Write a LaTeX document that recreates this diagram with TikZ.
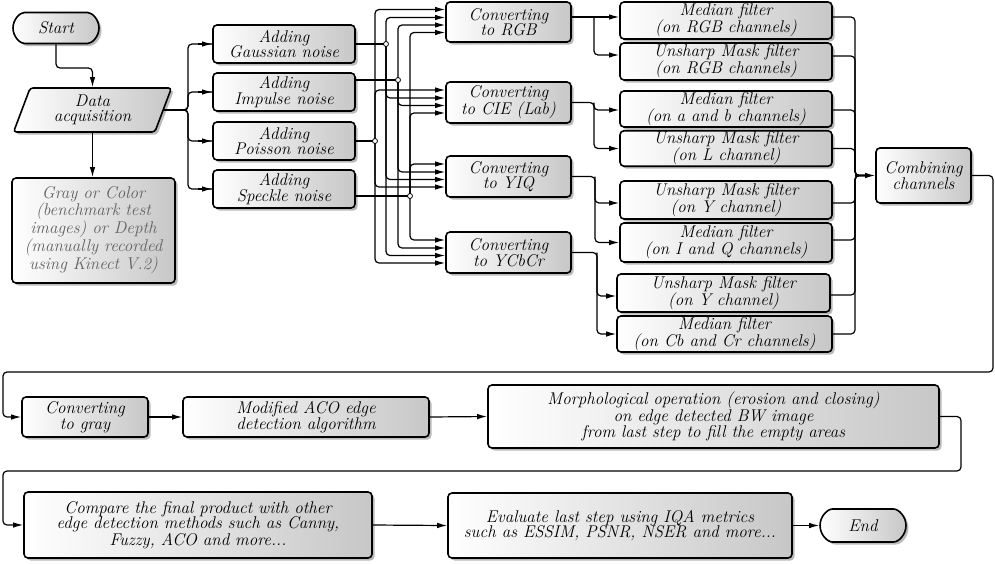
\documentclass[tikz,border=0pt]{standalone}
\usepackage{fontspec}
\usetikzlibrary{shapes.geometric,shapes.misc,shadows,arrows.meta}
\begin{document}
\begin{tikzpicture}[x=1pt,y=-1pt,
  txt/.style={font=\itshape\fontsize{17}{15.5}\selectfont\addfontfeatures{FakeBold=0.6}, align=center},
  box/.style={txt, draw, line width=1.6pt, rounded corners=4pt, left color=white, right color=black!22,
    drop shadow={shadow xshift=2.5pt, shadow yshift=-2.5pt, fill=black!55, opacity=0.5}, inner sep=1pt},
  term/.style={box, rounded rectangle},
  arr/.style={-{Latex[length=10pt,width=5.5pt]}, line width=1.2pt, rounded corners=4pt},
  ln/.style={line width=1.2pt, rounded corners=4pt},
  junc/.style={circle, draw, fill=white, line width=0.8pt, inner sep=0pt, minimum size=5pt}
]
\useasboundingbox (0,0) rectangle (995,563);

% left column
\node[term, minimum width=88pt, minimum height=31pt] (start) at (56,28) {Start};
\node[box, trapezium, trapezium left angle=72, trapezium right angle=108, trapezium stretches=true,
      minimum width=159pt, minimum height=44pt, rounded corners=3pt] (data) at (92.5,110) {Data\\acquisition};
\node[box, minimum width=163pt, minimum height=105pt, text=black!62] (src) at (93.5,230.5)
  {Gray or Color\\(benchmark test\\images) or Depth\\(manually recorded\\using Kinect V.2)};

% noise boxes
\node[box, minimum width=142pt, minimum height=38pt] (gauss) at (284,44) {Adding\\Gaussian noise};
\node[box, minimum width=142pt, minimum height=38pt] (imp) at (284,92) {Adding\\Impulse noise};
\node[box, minimum width=142pt, minimum height=38pt] (poi) at (284,141) {Adding\\Poisson noise};
\node[box, minimum width=142pt, minimum height=38pt] (spe) at (284,189) {Adding\\Speckle noise};

% converting boxes
\node[box, minimum width=125pt, minimum height=40pt] (rgb) at (508.5,22) {Converting\\to RGB};
\node[box, minimum width=125pt, minimum height=41pt] (cie) at (508.5,102.5) {Converting\\to CIE (Lab)};
\node[box, minimum width=125pt, minimum height=41pt] (yiq) at (508.5,176.5) {Converting\\to YIQ};
\node[box, minimum width=125pt, minimum height=41pt] (ycc) at (508.5,252.5) {Converting\\to YCbCr};

% filter boxes
\node[box, minimum width=212pt, minimum height=37pt] (mrgb) at (726,20.5) {Median filter\\(on RGB channels)};
\node[box, minimum width=212pt, minimum height=37pt] (urgb) at (726,61.5) {Unsharp Mask filter\\(on RGB channels)};
\node[box, minimum width=212pt, minimum height=36pt] (mab) at (726,109) {Median filter\\(on a and b channels)};
\node[box, minimum width=212pt, minimum height=35pt] (ul) at (726,148.5) {Unsharp Mask filter\\(on L channel)};
\node[box, minimum width=212pt, minimum height=38pt] (uy) at (726,200) {Unsharp Mask filter\\(on Y channel)};
\node[box, minimum width=212pt, minimum height=39pt] (miq) at (726,242.5) {Median filter\\(on I and Q channels)};
\node[box, minimum width=213pt, minimum height=38pt] (uy2) at (723.5,293) {Unsharp Mask filter\\(on Y channel)};
\node[box, minimum width=215pt, minimum height=36pt] (mcc) at (724.5,334) {Median filter\\(on Cb and Cr channels)};

\node[box, minimum width=95pt, minimum height=55pt] (comb) at (923.5,175.5) {Combining\\channels};

% bottom rows
\node[box, minimum width=126pt, minimum height=40pt] (gray) at (85,417) {Converting\\to gray};
\node[box, minimum width=246pt, minimum height=40pt] (aco) at (306,417) {Modified ACO edge\\detection algorithm};
\node[box, minimum width=451pt, minimum height=63pt] (morph) at (713.5,416.5)
  {Morphological operation (erosion and closing)\\on edge detected BW image\\from last step to fill the empty areas};
\node[box, minimum width=348pt, minimum height=66pt] (comp) at (198,525)
  {Compare the final product with other\\edge detection methods such as Canny,\\Fuzzy, ACO and more...};
\node[box, minimum width=344pt, minimum height=65pt] (eval) at (620,525.5)
  {Evaluate last step using IQA metrics\\such as ESSIM, PSNR, NSER and more...};
\node[term, minimum width=88pt, minimum height=33pt] (end) at (863,525.5) {End};

% start -> data -> source
\coordinate (s1) at (56,68);
\draw[arr] (start.south) -- (s1) -| (data.center |- data.north);
\draw[arr] (data.center |- data.south) -- (data.center |- src.north);

% data -> noise
\coordinate (db) at (188,110);
\draw[ln] (data.east) -- (db) |- (gauss.west);
\draw[ln] (data.east) -- (db) |- (imp.west);
\draw[ln] (data.east) -- (db) |- (poi.west);
\draw[ln] (data.east) -- (db) |- (spe.west);
\foreach \n in {gauss,imp,poi,spe} \draw[arr] ([xshift=-14pt]\n.west) -- (\n.west);

% junctions of the buses
\coordinate (pd) at (375,141);
\coordinate (gd) at (386,44);
\coordinate (id) at (398,80);
\coordinate (sd) at (410,196);
\draw[ln] (gauss.east) -- (gd);
\draw[ln] (imp.east |- id) -- (id);
\draw[ln] (poi.east) -- (pd);
\draw[ln] (spe.east |- sd) -- (sd);

% Poisson bus
\draw[arr] (pd) |- ([yshift=12.5pt]rgb.west);
\draw[arr] (pd) |- ([yshift=12.5pt]cie.west);
\draw[arr] (pd) |- ([yshift=-10.5pt]yiq.west);
\draw[arr] (pd) |- ([yshift=-10.5pt]ycc.west);
% Gaussian bus
\draw[arr] (gd) |- ([yshift=4.5pt]rgb.west);
\draw[arr] (gd) |- ([yshift=4.5pt]cie.west);
\draw[arr] (gd) |- ([yshift=-3pt]yiq.west);
\draw[arr] (gd) |- ([yshift=-3pt]ycc.west);
% Impulse bus
\draw[arr] (id) |- ([yshift=-3pt]rgb.west);
\draw[arr] (id) |- ([yshift=-3pt]cie.west);
\draw[arr] (id) |- ([yshift=4.5pt]yiq.west);
\draw[arr] (id) |- ([yshift=4.5pt]ycc.west);
% Speckle bus
\draw[arr] (sd) |- ([yshift=-10.5pt]rgb.west);
\draw[arr] (sd) |- ([yshift=-10.5pt]cie.west);
\draw[arr] (sd) |- ([yshift=12.5pt]yiq.west);
\draw[arr] (sd) |- ([yshift=12.5pt]ycc.west);

\node[junc] at (pd) {};
\node[junc] at (gd) {};
\node[junc] at (id) {};
\node[junc] at (sd) {};

% converting -> filters
\coordinate (r1) at (594,17);
\draw[arr] ([yshift=5pt]rgb.east) -- (r1) -- (mrgb.west |- r1);
\draw[arr] (r1) |- ([yshift=6.5pt]urgb.west);
\coordinate (c1) at (594,102.5);
\draw[arr] (cie.east) -- (c1) |- ([yshift=-1pt]mab.west);
\draw[arr] (c1) |- (ul.west);
\coordinate (y1) at (595,176.5);
\draw[arr] (yiq.east) -- (y1) |- ([yshift=-3pt]uy.west);
\draw[arr] (y1) |- (miq.west);
\coordinate (k1) at (597,252.5);
\draw[arr] (ycc.east) -- (k1) |- ([yshift=-3pt]uy2.west);
\draw[arr] (k1) |- (mcc.west);

% filters -> combining
\coordinate (cb) at (855,175.5);
\coordinate (cb2) at (866,175.5);
\draw[ln] ([yshift=3.5pt]mrgb.east) -| (cb) -- (cb2);
\draw[ln] ([yshift=5.5pt]urgb.east) -| (cb) -- (cb2);
\draw[ln] ([yshift=-1pt]mab.east) -| (cb) -- (cb2);
\draw[ln] (ul.east) -| (cb) -- (cb2);
\draw[ln] ([yshift=-3pt]uy.east) -| (cb) -- (cb2);
\draw[ln] ([yshift=2.5pt]miq.east) -| (cb) -- (cb2);
\draw[ln] ([yshift=-2pt]uy2.east) -| (cb) -- (cb2);
\draw[ln] (mcc.east) -| (cb) -- (cb2);
\draw[arr] (cb) -- (comb.west);

% combining -> gray
\coordinate (l1) at (993,372);
\coordinate (l2) at (3,372);
\draw[arr] (comb.east) -| (l1) -- (l2) |- (gray.west);
\draw[arr] (gray.east) -- (aco.west);
\draw[arr] (aco.east) -- (morph.west);

% morph -> compare
\coordinate (m1) at (961,471);
\coordinate (m2) at (3,471);
\draw[arr] (morph.east) -| (m1) -- (m2) |- (comp.west);
\draw[arr] (comp.east) -- (eval.west);
\draw[arr] (eval.east) -- (end.west);
\end{tikzpicture}
\end{document}
